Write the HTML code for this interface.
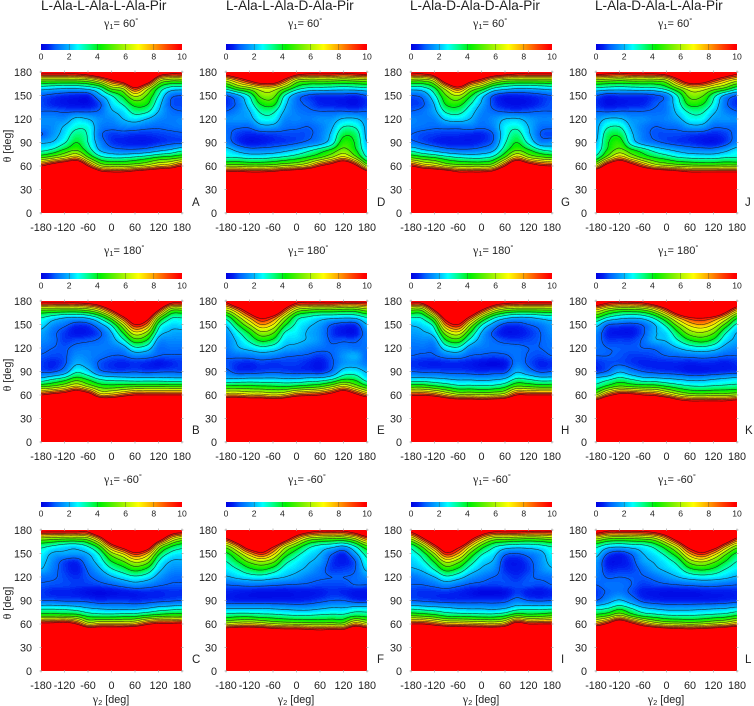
<!DOCTYPE html>
<html lang="en">
<head>
<meta charset="utf-8">
<title>Energy maps of Ala-Pir peptides</title>
<style>
html,body{margin:0;padding:0;background:#fff;}
svg{display:block;font-family:"Liberation Sans",sans-serif;}
.title{font-size:13.6px;fill:#222;}
.gamma{font-size:11px;fill:#222;}
.g{font-family:"Liberation Serif",serif;font-size:12px;}
.sub{font-size:7.5px;}
.deg{font-size:7.5px;}
.axis{font-size:10.8px;fill:#222;}
.letter{font-size:11.5px;fill:#222;}
</style>
</head>
<body>
<svg id="chart" xmlns="http://www.w3.org/2000/svg" width="754" height="706" viewBox="0 0 754 706">
<defs id="defs"></defs>
<g>
<text class="title" x="41" y="10">L-Ala-L-Ala-L-Ala-Pir</text>
<text class="title" x="226" y="10">L-Ala-L-Ala-D-Ala-Pir</text>
<text class="title" x="410" y="10">L-Ala-D-Ala-D-Ala-Pir</text>
<text class="title" x="595" y="10">L-Ala-D-Ala-L-Ala-Pir</text>
</g>
<g>
<text class="gamma" x="104" y="27"><tspan class="g">γ</tspan><tspan class="sub" dy="2">1</tspan><tspan dy="-2">= 60</tspan><tspan class="deg" dy="-4">°</tspan></text>
<text class="gamma" x="288" y="27"><tspan class="g">γ</tspan><tspan class="sub" dy="2">1</tspan><tspan dy="-2">= 60</tspan><tspan class="deg" dy="-4">°</tspan></text>
<text class="gamma" x="473" y="27"><tspan class="g">γ</tspan><tspan class="sub" dy="2">1</tspan><tspan dy="-2">= 60</tspan><tspan class="deg" dy="-4">°</tspan></text>
<text class="gamma" x="658" y="27"><tspan class="g">γ</tspan><tspan class="sub" dy="2">1</tspan><tspan dy="-2">= 60</tspan><tspan class="deg" dy="-4">°</tspan></text>
<text class="gamma" x="104" y="254"><tspan class="g">γ</tspan><tspan class="sub" dy="2">1</tspan><tspan dy="-2">= 180</tspan><tspan class="deg" dy="-4">°</tspan></text>
<text class="gamma" x="288" y="254"><tspan class="g">γ</tspan><tspan class="sub" dy="2">1</tspan><tspan dy="-2">= 180</tspan><tspan class="deg" dy="-4">°</tspan></text>
<text class="gamma" x="473" y="254"><tspan class="g">γ</tspan><tspan class="sub" dy="2">1</tspan><tspan dy="-2">= 180</tspan><tspan class="deg" dy="-4">°</tspan></text>
<text class="gamma" x="658" y="254"><tspan class="g">γ</tspan><tspan class="sub" dy="2">1</tspan><tspan dy="-2">= 180</tspan><tspan class="deg" dy="-4">°</tspan></text>
<text class="gamma" x="104" y="483"><tspan class="g">γ</tspan><tspan class="sub" dy="2">1</tspan><tspan dy="-2">= -60</tspan><tspan class="deg" dy="-4">°</tspan></text>
<text class="gamma" x="288" y="483"><tspan class="g">γ</tspan><tspan class="sub" dy="2">1</tspan><tspan dy="-2">= -60</tspan><tspan class="deg" dy="-4">°</tspan></text>
<text class="gamma" x="473" y="483"><tspan class="g">γ</tspan><tspan class="sub" dy="2">1</tspan><tspan dy="-2">= -60</tspan><tspan class="deg" dy="-4">°</tspan></text>
<text class="gamma" x="658" y="483"><tspan class="g">γ</tspan><tspan class="sub" dy="2">1</tspan><tspan dy="-2">= -60</tspan><tspan class="deg" dy="-4">°</tspan></text>
</g>
<g>
<text class="letter" x="192" y="206">A</text>
<text class="letter" x="192" y="434">B</text>
<text class="letter" x="192" y="663">C</text>
<text class="letter" x="377" y="206">D</text>
<text class="letter" x="377" y="434">E</text>
<text class="letter" x="377" y="663">F</text>
<text class="letter" x="561" y="206">G</text>
<text class="letter" x="561" y="434">H</text>
<text class="letter" x="561" y="663">I</text>
<text class="letter" x="745" y="206">J</text>
<text class="letter" x="745" y="434">K</text>
<text class="letter" x="745" y="663">L</text>
</g>
<g>
<text class="axis" transform="rotate(-90 11 146)" x="11" y="146" text-anchor="middle"><tspan class="g">θ</tspan> [deg]</text>
<text class="axis" transform="rotate(-90 11 375)" x="11" y="375" text-anchor="middle"><tspan class="g">θ</tspan> [deg]</text>
<text class="axis" transform="rotate(-90 11 603)" x="11" y="603" text-anchor="middle"><tspan class="g">θ</tspan> [deg]</text>
<text class="axis" x="111" y="703" text-anchor="middle"><tspan class="g">γ</tspan><tspan class="sub" dy="2">2</tspan><tspan dy="-2"> [deg]</tspan></text>
<text class="axis" x="296" y="703" text-anchor="middle"><tspan class="g">γ</tspan><tspan class="sub" dy="2">2</tspan><tspan dy="-2"> [deg]</tspan></text>
<text class="axis" x="481" y="703" text-anchor="middle"><tspan class="g">γ</tspan><tspan class="sub" dy="2">2</tspan><tspan dy="-2"> [deg]</tspan></text>
<text class="axis" x="666" y="703" text-anchor="middle"><tspan class="g">γ</tspan><tspan class="sub" dy="2">2</tspan><tspan dy="-2"> [deg]</tspan></text>
</g>
<g id="panels"></g>
</svg>
<script>
// Sampled axes of every surface
const gamma2Samples = [-180,-150,-120,-90,-60,-30,0,30,60,90,120,150,180];
const thetaSamples = [180,170,160,150,140,130,120,110,100,90,80,70,60,50];
// Tick labels
const gamma2Ticks = [-180,-120,-60,0,60,120,180];
const thetaTicks = [0,30,60,90,120,150,180];
const colorbarTicks = [0,2,4,6,8,10];
const contourLevels = [1,2,3,4,5,6,7,8,9,10];
// Energy per gamma2 sample (outer) and theta sample (inner)
const surfaceA = [
[11,5.6,2.6,1,.8,1,1.5,1.4,.95,1.9,2.8,5.2,10,17],
[11,5.6,2.4,.8,.5,1,1.5,1.5,1.6,2.1,3.3,6,12,19],
[11,5.6,2.3,.6,.3,.9,1.5,2.1,2.4,2.9,4.3,7,14,21],
[11,5.6,2.3,.5,.2,.9,2.2,2.8,3.4,4,5,8.2,15.5,23],
[12,6,2.6,.5,.2,.9,2,2.7,2.9,3,3.6,5.4,10,17],
[14,7.5,3.4,1.8,.9,1.1,1.5,1.4,1.2,1.5,2,3.6,6.3,12],
[17,10,5.6,3,2.3,1.9,1.5,1.2,.7,.7,1.4,3.1,5.7,11],
[20,12.5,6.5,4.3,3.2,2.4,2,1.4,.7,.5,1.2,3.1,5.7,11],
[25,17,10,6.3,4.5,3.4,2.4,1.4,.6,.4,1.2,3.4,6,12],
[22,13.5,7,5,4.2,3.2,2,1.2,.6,.4,1.4,3.8,6.6,13],
[13,7,4,3,2.4,2,1.5,1.1,.7,.6,1.8,4.4,7.6,14],
[11,5.6,2.8,1.3,1,1.2,1.3,1.2,.8,.8,2.2,4.7,8.2,15],
[11,5.6,2.6,1,.8,1,1.4,1.3,.9,.9,2.8,5.2,10,17]];
const surfaceB = [
[11,5.6,3.2,2.4,1.8,1.5,1.2,.95,.7,.9,2.4,5.2,10,17],
[11,5.6,2.7,1.6,1.2,1.2,1,.8,.5,.9,3,5.6,11,18],
[11,5.6,2.3,1.2,.7,.7,.9,.9,.9,1.5,3.6,6.4,12,19],
[11,5.6,2.2,.7,.3,.8,1.2,1.5,1.9,2.8,4.6,7.6,14,22],
[11.5,6,2.5,.8,.4,.9,1.3,1.4,1.6,2.3,3.9,6.2,12,19],
[13,7.5,3.6,1.7,.9,1.1,1.3,1.2,.9,1.2,3,4.9,8,15],
[18,11,6,3.2,2,1.6,1.3,1,.6,.9,2.7,4.7,8,14],
[24,16,10,6.2,4.2,2.8,1.6,1,.5,.85,2.6,5,9,16],
[30,21,14,10,6.8,4.6,2.8,1.4,.6,.95,2.5,5.2,10,17],
[28,18,12,8.5,5.8,4,2.5,1.3,.5,.8,2.5,5.2,10,17],
[17,11,6,3.6,2.6,1.7,1.2,1,.3,.9,2.5,5.2,10,17],
[11.5,6,3.4,2.4,1.9,1.5,1.2,.95,.5,.95,2.4,5.2,10,17],
[11,5.6,3.2,2.4,1.8,1.5,1.2,.95,.7,.9,2.4,5.2,10,17]];
const surfaceC = [
[11,6,3.4,2.6,2.3,2,1.2,.95,.7,1,2.8,5,10.8,17],
[11,5.8,3,1.9,1.5,1.3,1.1,.85,.5,1,2.8,5,11,18],
[11,5.6,2.6,1.8,.8,.7,.8,.8,.5,.9,2.7,5,11.5,18],
[11,5.6,2.5,1.7,.6,.4,.6,.7,.4,.9,2.5,4.8,10,17],
[11,6,3.2,2,1.5,1.1,.9,.7,.2,.8,2.1,3.9,7,14],
[16,9,5,3.2,2.5,1.9,1.3,.8,.1,.6,1.9,3.7,7.5,14],
[24,15,9,5.6,4,2.9,1.9,1,.2,.7,1.8,3.7,7.5,14],
[28,19,12,7.2,5,3.6,2.4,1.3,.3,.7,1.8,3.8,7.5,14],
[33,23,15,9.5,6.3,4.4,2.8,1.6,.4,.6,1.8,3.9,7.8,15],
[30,20,13,8,5.6,3.8,2.5,1.4,.5,.7,2,4.4,9.5,16],
[19,13,6.8,4.3,3,2.3,1.7,1.1,.5,.8,2.4,4.8,10.5,17],
[13,8,4.4,2.8,2,1.6,1.2,.95,.6,.9,2.6,5,10.5,17],
[11.5,6.2,3.5,2.5,1.9,1.5,1.1,.95,.6,1,2.8,5,10.8,17]];
const surfaceD = [
[12,6.7,3.6,1,.6,1,1.5,1.2,1.2,1.4,2.4,3.1,5.7,11.5],
[14,8.5,5,1.8,1.2,1.4,1.6,1.1,.7,.7,1.8,3.1,5.7,11.5],
[17,10.7,5.9,3.2,2.5,2,1.7,1.1,.5,.3,1.4,2.9,5.5,11],
[19,13,7,5.4,4.2,3.2,2.6,1.7,.6,.4,1.4,2.9,5.5,11],
[19,13,7,5.4,4.4,3.2,2.6,1.7,.7,.6,1.5,3.1,5.7,11.5],
[15,9.5,5.4,3,2.3,1.9,1.5,1.2,.8,.7,1.8,3.4,6.2,12.5],
[12,6.2,3.7,1.5,1.2,1.3,1.4,1.1,.8,.9,2.2,3.8,6.6,13.5],
[11,5.6,3,.9,.9,1.1,1.3,1,.9,1.2,2.8,4.4,7.6,15],
[11,5.6,2.9,.7,.5,1,1.5,1.3,1.3,1.6,3.5,5.2,10,17],
[11,5.6,2.8,.7,.4,1,1.6,1.9,2.2,2.6,4.3,6.4,12,19],
[10.5,5.4,2.7,.7,.3,1,2.1,3,3.8,4.5,5.4,7.8,15,22],
[11,5.6,2.8,.6,.2,.9,2.1,2.9,3.6,3.9,4.2,5.8,11,18],
[11.5,5.8,3,1,.6,1,1.6,1.8,1.8,2,2.4,3.2,6,12]];
const surfaceE = [
[10.5,6.5,3.6,2.2,1.6,1.4,1.3,1.1,.9,1.2,2.2,4.6,8,15],
[15,9,5.8,4,2.8,2.2,1.9,1.2,.6,.7,2.2,4.6,8,15],
[20,13,8.5,6,4.2,3.2,2.3,1.3,.5,.7,2.3,4.5,7.5,14],
[25,18,11,8,5.8,4.2,2.7,1.5,.7,.8,2.3,4.4,7.5,14],
[23,16,9.6,7,5.2,3.8,2.5,1.4,.6,.9,2.3,4.3,7,13],
[15,10,6.2,4.3,3,2.4,1.9,1.1,.7,.8,2.2,4.2,7.5,14],
[11,6.4,3.6,2.8,2.5,2.2,1.7,1,.7,.7,2.2,4.5,9,16],
[11,5.6,3,2.2,1.9,1.9,1.4,.9,.5,.7,2.4,4.8,9.5,16],
[11,5.4,2.6,1.7,1.5,1.5,1.2,.7,.3,.6,2.5,5.2,10,17],
[11,5.4,2.5,1,.7,.9,1.1,1,.9,1.2,3,6.2,11.5,19],
[10.5,5.2,2.4,.7,.3,.9,1.3,1.6,1.6,2.4,4,7.5,14,22],
[10.5,5.2,2.5,.7,.3,.9,1.2,1.9,1.7,2.5,3.8,6,11,18],
[10.5,6,3.2,2,1.4,1.3,1.2,1.1,1.3,1.9,2.6,4.6,8.5,15]];
const surfaceF = [
[18,10.5,5.8,3.8,3,2.5,1.9,1,.5,.6,2,3.6,6.6,13],
[24,15,8.5,5.4,4,3,2.2,1.1,.4,.5,2,3.8,7,14],
[32,21,13,7.8,5.3,3.8,2.5,1.2,.3,.5,2,3.8,7.2,14],
[34,23,14,9.5,6,4.2,2.6,1.2,.2,.5,2,3.6,6.8,13.5],
[30,20,11,7.5,5.3,3.6,2.3,1.1,.2,.5,1.9,3.5,6.2,12.5],
[21,13,7,4.8,3.4,2.6,2,1,.2,.5,1.8,3.3,5.9,12],
[14,8.5,5,3.4,2.6,2.2,1.7,.95,.3,.5,1.7,3.2,5.8,12],
[11.5,6.2,3.5,2.5,2.1,1.8,1.3,.9,.3,.6,1.7,3.2,5.6,11.5],
[10.5,5.6,2.8,2,1.7,1.3,1.1,.8,.4,.8,1.9,3.3,5.5,11],
[10.5,5.4,2.5,1.1,.7,.7,1,.8,.6,1,2.1,3.4,5.6,11.5],
[10.5,5.4,2.1,.6,.4,.7,1,.8,.5,1,2.1,3.4,5.6,11.5],
[12,6.5,3.2,1.8,1,1,1.1,1,.3,.7,2.4,4,8,15],
[15,9,5,3.4,2.8,2.2,1.5,1,.3,.6,2.4,3.8,6.8,13]];
const surfaceG = [
[11,5.6,2.6,1,.7,1,1.4,1.3,1,1.2,2.8,5.2,10,17],
[11,5.6,2.8,1.3,.9,1.2,1.3,1.2,.8,.9,2.2,4.6,8.2,15],
[13,7,4,2.8,2.1,1.8,1.4,1.1,.7,.6,1.8,4.2,7.4,14],
[22,13,7,5,4.2,3.2,2.2,1.2,.6,.4,1.4,3.6,6.2,13],
[25,17,9.5,6,4.5,3.4,2.4,1.2,.6,.4,1.2,3.2,5.7,11],
[20,12,6.5,4.3,3.2,2.5,2,1.3,.5,.4,1.2,3,5.6,11],
[15,9.5,5,2.5,1.9,1.5,1.3,1.1,.5,.6,1.4,3,5.6,11],
[13,7,3.2,1,.8,1.1,1.5,1.4,1,1.1,1.9,3.5,6.2,12],
[12,5.8,2.6,.5,.3,.9,2,2.5,2.6,2.9,3.6,5.4,10,17],
[11,5.6,2.3,.5,.2,.8,2.1,2.8,3.4,4,5,8.2,15.5,23],
[11,5.6,2.3,.6,.3,.9,1.7,2,2.2,2.8,4.2,6.4,12.5,20],
[11,5.6,2.4,.8,.6,1,1.4,1.2,1,1.5,3.2,5.6,10.5,17],
[11,5.6,2.6,1,.9,1,1.4,1.1,.8,1.5,2.8,5.2,10,17]];
const surfaceH = [
[11,5.6,3.2,2.1,1.7,1.4,1.2,1,.6,1,2.4,5,9.7,17],
[11.5,6,3.4,2.4,1.9,1.5,1.2,.9,.5,.9,2.4,5,9.7,17],
[17,11,6,3.6,2.6,1.7,1.2,.95,.4,.9,2.3,4.5,9,16],
[28,18,12,8.5,5.8,4,2.5,1.3,.5,.8,2.1,4,7.5,14],
[30,21,14,10,6.8,4.6,2.8,1.4,.5,.8,1.9,3.5,6.4,13],
[24,16,10,6.2,4.2,2.8,1.6,1,.4,.7,1.9,3.5,6.4,13],
[18,11,6,3.2,2,1.6,1.3,.9,.2,.6,1.8,3.4,6.2,12.5],
[13,7.5,3.6,1.7,.9,1.1,1.2,.8,.1,.7,1.9,3.5,6.4,13],
[11.5,6,2.6,.8,.3,.8,1.2,.9,.3,.8,2.2,4,7,14],
[11,5.6,2.2,.7,.3,.7,1.2,1.2,1.3,1.9,3.2,5.4,10,17],
[11,5.6,2.2,1,.6,.8,1,.95,.9,1.4,3,5.2,10,17],
[11,5.6,2.5,1.3,1,1,1,.8,.5,.9,2.6,5,10,17],
[11,5.6,2.7,1.7,1.5,1.3,1.2,1,.6,1,2.6,5,10,17]];
const surfaceI = [
[11,6.5,3.5,2.6,2.2,1.9,1.2,1,.7,1,2.8,5.2,10,17],
[15,10,5.6,3.6,2.8,2.2,1.5,1,.6,.9,2.6,5,10,17],
[22,15,9.5,6,4.2,3.1,2,1.2,.6,.8,2.4,4.6,9,16],
[32,22,13.5,9.6,6.3,4.4,2.8,1.5,.6,.7,2.2,4,8,15],
[30,20,11.5,8,5.4,3.8,2.4,1.2,.5,.7,2,3.9,7.8,14.5],
[19,12,7.5,5,3.6,2.6,1.7,.9,.3,.7,1.9,3.8,7.6,14],
[13,8,4.8,3.2,2.4,1.9,1.3,.8,.1,.7,1.9,3.7,7.4,14],
[11,6,3.4,2.4,1.9,1.5,1,.7,.1,.7,1.8,3.7,7.2,14],
[11,5.8,2.8,1.2,.6,.6,.8,.8,.2,.8,2,4.1,8,15],
[11,5.6,2.6,1,.4,.4,.6,.8,.7,1.3,2.6,5.2,11.5,19],
[10.7,5.4,2.6,1.3,.8,.7,.9,.9,.4,1,2.7,4.8,10,17],
[10.5,5.5,2.8,1.7,1.5,1.4,1.1,.8,.3,.9,2.7,4.9,10,17],
[10.5,5.8,3.2,2.6,2.3,1.9,1.2,1,.5,1,2.8,5.2,10,17]];
const surfaceJ = [
[11.5,5.8,3,1,.6,1,1.6,1.8,1.8,2,2.4,3.6,7,14],
[11,5.6,2.8,.6,.2,.9,2.1,2.9,3.6,3.9,4.2,6,12,19],
[10.5,5.4,2.7,.7,.3,1,2.1,3,3.8,4.5,5.4,8.2,15.5,23],
[11,5.6,2.8,.7,.4,1,1.6,1.9,2.2,2.6,4.3,6.4,12,19],
[11,5.6,2.9,.7,.5,1,1.5,1.3,1.3,1.6,3.5,5,9,16],
[11,5.6,3,.9,.9,1.1,1.3,1,.9,1.2,2.7,4.2,7,14],
[12,6.2,3.7,1.4,1.3,1.3,1.4,1.1,.8,.9,2.2,3.7,6.3,13],
[15,9.5,5.4,3.2,2.7,2.3,1.8,1.2,.8,.7,1.8,3.2,5.8,12],
[19,13,7,5.4,4.4,3.2,2.6,1.7,.7,.6,1.5,3,5.5,11],
[19,12.5,7,5.2,4.2,3.2,2.6,1.7,.6,.4,1.4,2.9,5.4,11],
[16,10,5.9,3.4,2.8,2.2,1.7,1.1,.5,.3,1.4,2.9,5.4,11],
[13,8,5,1.8,1.2,1.4,1.6,1.1,.7,.7,1.8,3.1,5.5,11],
[11,6.7,3.6,1,.6,1,1.5,1.2,1.2,1.4,2.4,3.1,5.5,11]];
const surfaceK = [
[13,7.5,4.4,2.4,1.5,1.3,1.2,1,.6,.7,2.4,3.5,6,12],
[11,6,3.2,1.1,.5,.7,1,1,.8,1.1,2.8,4.6,9,16],
[10.5,5.3,2.6,.9,.3,.7,.95,.9,.9,1.9,3.4,5.5,11,18],
[10.5,5.3,2.4,.8,.3,.7,.9,.7,.7,1.4,3,5.2,11,18],
[11,5.6,2.6,1.1,.9,1.1,1,.7,.5,1,2.5,5,10,17],
[13,7,3.6,2,1.9,1.9,1.1,.8,.5,.8,2.4,4.9,9.5,16],
[17,10,5.6,3.4,2.4,2.1,1.5,1,.5,.7,2.2,4.3,8,15],
[24,15,8.5,5.6,4,3,2,1.1,.5,.6,2,3.7,6.5,12],
[28,19,10.5,7.4,5.6,4,2.5,1.2,.4,.4,1.8,3.3,5.7,11],
[30,21,11,8,6,4.4,2.7,1.3,.5,.4,1.8,3.2,5.5,11],
[28,19,10,7,5.2,3.8,2.4,1.2,.5,.5,2,3.3,5.7,11],
[21,13,7.5,4.8,3.2,2.4,1.7,1,.4,.6,2.2,3.4,5.7,11],
[14,8.5,4.6,2.8,2,1.8,1.4,1,.6,.7,2.4,3.5,6,12]];
const surfaceL = [
[12,6.5,3.4,2.4,1.7,1.5,1.3,1,.7,1,2.7,4.6,8.5,15],
[10.5,5.5,2.6,1,.4,.6,.95,1.2,1.1,1.6,3,5.2,10.5,18],
[10.5,5.3,2.4,.6,.3,.6,1,1.2,1.3,2.1,3.7,6.5,14,21],
[10.5,5.4,2.6,1.1,.7,.7,.95,1,.9,1.5,3,5,11,18],
[10.7,5.6,2.8,2,1.7,1.2,.95,.7,.4,.8,2.2,4,8.5,15],
[11.5,6.2,3.5,2.5,2.1,1.8,1.2,.8,.3,.6,1.9,3.6,7,14],
[14,8.5,5,3.4,2.6,2.2,1.6,.9,.2,.5,1.7,3.3,6.2,13],
[21,13,7.5,5,3.5,2.7,2,1,.2,.5,1.7,3.2,6,12.5],
[30,20,12,8,5.5,3.8,2.4,1.1,.2,.5,1.7,3.2,5.8,12],
[34,23,14,9.6,6.2,4.2,2.6,1.2,.3,.5,1.8,3.3,6,12.5],
[32,21,12.5,7.8,5.3,3.8,2.5,1.2,.4,.5,1.9,3.5,6.5,13],
[24,15,8.5,5.4,4,3,2.2,1.1,.4,.6,2,3.7,7,14],
[16,10,5.8,3.8,3,2.5,1.9,1,.5,.7,2.3,4.2,8,15]];

const NS = 'http://www.w3.org/2000/svg';
const root = document.getElementById('panels');
const defs = document.getElementById('defs');
const plotSize = 141;
const colX = [41,226,411,596];
const rowY = [72,301,530];
const barY = [44,273,502];
const barH = [6,6,5];
const panelList = [
  {id:'a',s:surfaceA,c:0,r:0},{id:'b',s:surfaceB,c:0,r:1},{id:'c',s:surfaceC,c:0,r:2},
  {id:'d',s:surfaceD,c:1,r:0},{id:'e',s:surfaceE,c:1,r:1},{id:'f',s:surfaceF,c:1,r:2},
  {id:'g',s:surfaceG,c:2,r:0},{id:'h',s:surfaceH,c:2,r:1},{id:'i',s:surfaceI,c:2,r:2},
  {id:'j',s:surfaceJ,c:3,r:0},{id:'k',s:surfaceK,c:3,r:1},{id:'l',s:surfaceL,c:3,r:2}
];
const paletteStops = [[0,[0,0,224]],[.5,[0,30,240]],[1,[0,96,255]],[2,[0,184,255]],[2.6,[0,255,255]],[3.3,[0,255,144]],[4.2,[0,240,0]],[5.5,[128,240,0]],[6.9,[255,255,0]],[8,[255,160,0]],[9,[255,64,0]],[9.8,[255,0,0]],[10,[255,0,0]]];

function colorOf(v){
  v = Math.max(0,Math.min(10,v));
  for(let i=1;i<paletteStops.length;i++){
    if(v<=paletteStops[i][0]){
      const a=paletteStops[i-1], b=paletteStops[i], t=(v-a[0])/(b[0]-a[0]);
      return 'rgb('+a[1].map((q,k)=>Math.round(q+(b[1][k]-q)*t)).join(',')+')';
    }
  }
  return 'rgb(255,0,0)';
}
function cr(a,b,c,d,t){
  return .5*((2*b)+(c-a)*t+(2*a-5*b+4*c-d)*t*t+(3*b-a-3*c+d)*t*t*t);
}
function sample(arr,u){
  const n=arr.length-1;
  if(u<=0) return arr[0];
  if(u>=n) return arr[n];
  const i=Math.floor(u), t=u-i;
  return cr(arr[Math.max(i-1,0)],arr[i],arr[i+1],arr[Math.min(i+2,n)],t);
}
function gammaIndex(g){
  const step=gamma2Samples[1]-gamma2Samples[0];
  return (g-gamma2Samples[0])/step;
}
function thetaIndex(th){
  const step=thetaSamples[0]-thetaSamples[1];
  return (thetaSamples[0]-th)/step;
}
function make(tag,attrs,parent){
  const el=document.createElementNS(NS,tag);
  for(const k in attrs) el.setAttribute(k,attrs[k]);
  parent.appendChild(el);
  return el;
}

// colorbar gradient
const grad = make('linearGradient',{id:'palette',x1:0,x2:1,y1:0,y2:0},defs);
paletteStops.forEach(st=>{
  make('stop',{offset:st[0]/10,'stop-color':colorOf(st[0])},grad);
});

panelList.forEach(p=>{
  const x0=colX[p.c], y0=rowY[p.r];
  const xScale=g=>x0+(g+180)/360*plotSize;
  const yScale=t=>y0+(180-t)/180*plotSize;
  const xInvert=px=>(px-x0)/plotSize*360-180;
  const yInvert=py=>180-(py-y0)/plotSize*180;

  const group=make('g',{},root);
  
  

  // evaluate the surface on pixel centres
  const field=[];
  for(let j=0;j<plotSize;j++){
    const th=yInvert(y0+j+.5);
    const u=thetaIndex(th);
    const rowVals=p.s.map(col=>sample(col,u));
    const line=new Float64Array(plotSize);
    for(let i=0;i<plotSize;i++){
      line[i]=sample(rowVals,gammaIndex(xInvert(x0+i+.5)));
    }
    field.push(line);
  }

  // heatmap: one path per quantised colour, made of one-pixel-high runs
  const bands={};
  for(let j=0;j<plotSize;j++){
    let start=0;
    const q=v=>Math.round(Math.max(0,Math.min(10,v))*10);
    let cur=q(field[j][0]);
    for(let i=1;i<=plotSize;i++){
      const n=i<plotSize?q(field[j][i]):-1;
      if(n!==cur){
        bands[cur]=(bands[cur]||'')+'M'+(x0+start)+' '+(y0+j)+'h'+(i-start)+'v1h'+(start-i)+'z';
        start=i;cur=n;
      }
    }
  }
  const heat=make('g',{'shape-rendering':'crispEdges'},group);
  
  
  Object.keys(bands).forEach(k=>{
    const band=make('path',{d:bands[k],fill:colorOf(k/10)},heat);
    
    
  });

  // contour lines (marching squares on the same field)
  contourLevels.forEach(level=>{
    let d='';
    const px=(i)=>x0+i+.5, py=(j)=>y0+j+.5;
    for(let j=0;j<plotSize-1;j++){
      for(let i=0;i<plotSize-1;i++){
        const a=field[j][i],b=field[j][i+1],c=field[j+1][i+1],e=field[j+1][i];
        const pts=[];
        if((a<level)!==(b<level)) pts.push([px(i)+(level-a)/(b-a),py(j)]);
        if((b<level)!==(c<level)) pts.push([px(i+1),py(j)+(level-b)/(c-b)]);
        if((e<level)!==(c<level)) pts.push([px(i)+(level-e)/(c-e),py(j+1)]);
        if((a<level)!==(e<level)) pts.push([px(i),py(j)+(level-a)/(e-a)]);
        for(let k=0;k+1<pts.length;k+=2){
          d+='M'+pts[k][0].toFixed(2)+' '+pts[k][1].toFixed(2)+'L'+pts[k+1][0].toFixed(2)+' '+pts[k+1][1].toFixed(2);
        }
      }
    }
    if(d){
      const line=make('path',{d:d,fill:'none',stroke:'#1a1a1a','stroke-width':.6,'stroke-linecap':'round','stroke-opacity':.85},group);
      
      
    }
  });

  // axes
  const axisGroup=make('g',{},group);
  
  
  gamma2Ticks.forEach(g=>{
    const x=xScale(g);
    const top=make('line',{x1:x,x2:x,y1:y0-1.5,y2:y0+1,stroke:'#999','stroke-width':.6},axisGroup);
    
    
    const bot=make('line',{x1:x,x2:x,y1:y0+plotSize-1,y2:y0+plotSize+1.5,stroke:'#999','stroke-width':.6},axisGroup);
    
    
    const baseline=[231,460,689][p.r];
    const lab=make('text',{x:x,y:baseline,'text-anchor':'middle','class':'axis'},axisGroup);
    
    
    lab.textContent=g;
  });
  thetaTicks.forEach(t=>{
    const y=yScale(t);
    const left=make('line',{x1:x0-1.5,x2:x0+1,y1:y,y2:y,stroke:'#999','stroke-width':.6},axisGroup);
    
    
    const right=make('line',{x1:x0+plotSize-1,x2:x0+plotSize+1.5,y1:y,y2:y,stroke:'#999','stroke-width':.6},axisGroup);
    
    
    const lab=make('text',{x:x0-9,y:y+3.8,'text-anchor':'end','class':'axis'},axisGroup);
    
    
    lab.textContent=t;
  });

  // colorbar
  const by=barY[p.r], bh=barH[p.r];
  const barGroup=make('g',{},group);
  
  
  const bar=make('rect',{x:x0,y:by,width:plotSize,height:bh,fill:'url(#palette)'},barGroup);
  
  
  colorbarTicks.forEach(v=>{
    const x=x0+v/10*plotSize;
    if(v>0&&v<10){
      const tick=make('line',{x1:x,x2:x,y1:by,y2:by+bh,stroke:'#333','stroke-width':.5,'stroke-opacity':.7},barGroup);
      
      
    }
    const lab=make('text',{x:x,y:by+bh+9.6,'text-anchor':'middle','font-size':'8.6','fill':'#222'},barGroup);
    
    
    lab.textContent=v;
  });
});
</script>
</body>
</html>
